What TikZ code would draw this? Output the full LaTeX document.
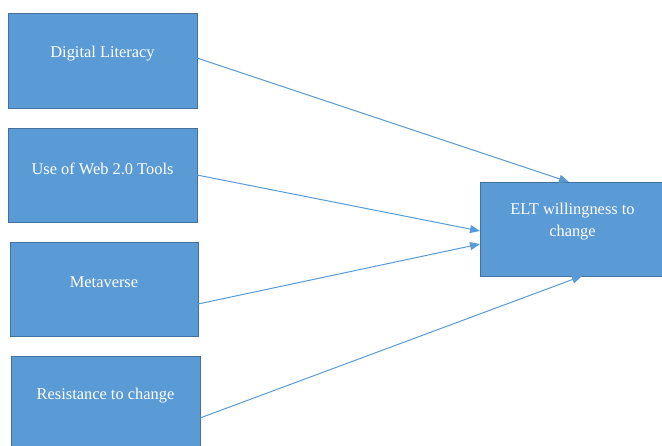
\documentclass[tikz,border=0pt]{standalone}
\usepackage{fontspec}
\setmainfont{Liberation Serif}
\usetikzlibrary{arrows.meta}
\definecolor{boxfill}{HTML}{5B9BD5}
\definecolor{boxline}{HTML}{41719C}
\definecolor{arrowcol}{HTML}{5B9BD5}
\begin{document}
\begin{tikzpicture}[x=1pt,y=-1pt,
  blockbox/.style={draw=boxline, fill=boxfill, line width=1pt, inner sep=0pt, outer sep=0pt},
  blocktext/.style={text=white, font=\fontsize{16.4}{22}\selectfont, align=center, inner sep=0pt},
  link/.style={draw=arrowcol, line width=1pt, -{Triangle[length=10pt,width=8pt]}}
]
\useasboundingbox (0,0) rectangle (662,445);
\clip (0,0) rectangle (662,445);
\fill[white] (0,0) rectangle (662,445);

\node[blockbox, minimum width=189pt, minimum height=95pt] (dl) at (102.5,60.5) {};
\node[blockbox, minimum width=189pt, minimum height=94pt] (web) at (102.5,175) {};
\node[blockbox, minimum width=188pt, minimum height=94pt] (meta) at (104,289) {};
\node[blockbox, minimum width=189pt, minimum height=99pt] (res) at (105.5,405.5) {};
\node[blockbox, minimum width=194pt, minimum height=94pt] (elt) at (577,229) {};

\node[blocktext] (dlt) at ([yshift=6.5pt]dl.center) {Digital Literacy};
\node[blocktext] (webt) at ([yshift=6.5pt]web.center) {Use of Web 2.0 Tools};
\node[blocktext] (metat) at ([yshift=6.5pt]meta.center) {Metaverse};
\node[blocktext] (rest) at ([yshift=9.5pt]res.center) {Resistance to change};
\node[blocktext] (eltt) at ([xshift=-4.5pt,yshift=7pt]elt.center) {ELT willingness to\\change};

\draw[link] ([yshift=2.5pt]dl.east) -- ([xshift=-8pt]elt.north);
\draw[link] (web.east) -- ([yshift=-2pt]elt.west);
\draw[link] ([yshift=-15pt]meta.east) -- ([yshift=-15pt]elt.west);
\draw[link] ([yshift=-12.5pt]res.east) -- ([xshift=5pt]elt.south);
\end{tikzpicture}
\end{document}
